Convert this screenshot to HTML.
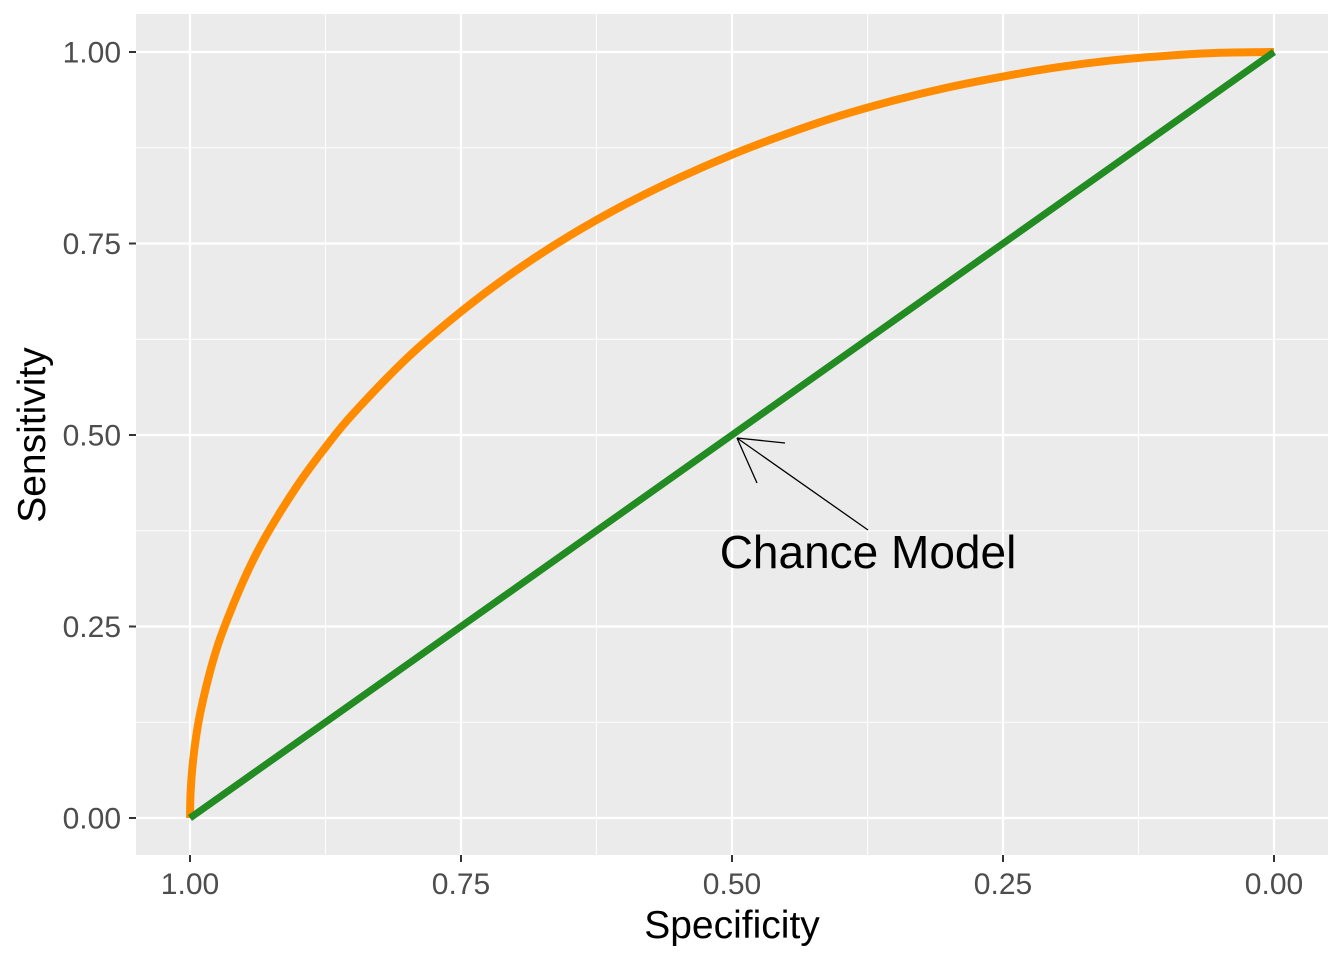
<!DOCTYPE html>
<html><head><meta charset="utf-8"><style>
body{margin:0;background:#fff}
svg text{font-family:"Liberation Sans",Arial,sans-serif}
</style></head><body>
<svg id="chart" width="1344" height="960">
<rect x="136" y="14" width="1192" height="841" fill="#ebebeb"/>
<g id="grid"></g>
<g id="series"></g>
<g id="axes"></g>
<g>
<line x1="868" y1="530" x2="737" y2="438" stroke="#000" stroke-width="1.3"/>
<line x1="737" y1="438" x2="785" y2="443" stroke="#000" stroke-width="1.3"/>
<line x1="737" y1="438" x2="757" y2="483" stroke="#000" stroke-width="1.3"/>
<text x="868" y="568" font-size="46" text-anchor="middle" fill="#000">Chance Model</text>
</g>
<text x="732" y="938" font-size="39" text-anchor="middle" fill="#000">Specificity</text>
<text transform="translate(45,435) rotate(-90)" font-size="39" text-anchor="middle" fill="#000">Sensitivity</text>
</svg>
<script>
const xTicks=[1,0.75,0.5,0.25,0];
const yTicks=[0,0.25,0.5,0.75,1];
const minorTicks=[0.875,0.625,0.375,0.125];
const rocSpec=[1,0.9995,0.998,0.995,0.99,0.98,0.97,0.95,0.93,0.9,0.875,0.85,0.8,0.75,0.7,0.65,0.6,0.55,0.5,0.45,0.4,0.35,0.3,0.25,0.2,0.15,0.1,0.05,0];
const rocSens=[0,0.032,0.063,0.100,0.141,0.199,0.243,0.312,0.368,0.436,0.484,0.527,0.600,0.661,0.714,0.760,0.800,0.835,0.866,0.893,0.917,0.937,0.954,0.968,0.980,0.989,0.995,0.999,1];
const chanceSpec=[1,0];
const chanceSens=[0,1];
const NS="http://www.w3.org/2000/svg";
const X=v=>190+(1-v)*1084;
const Y=v=>818-v*766;
function mk(t,a,p){const e=document.createElementNS(NS,t);for(const k in a)e.setAttribute(k,a[k]);p.appendChild(e);return e;}
const grid=document.getElementById('grid'),axes=document.getElementById('axes'),series=document.getElementById('series');
minorTicks.forEach(v=>{
 let l=mk('line',{x1:X(v),x2:X(v),y1:14,y2:855,stroke:'#fff','stroke-width':1},grid);
 
 
 let m=mk('line',{x1:136,x2:1328,y1:Y(v),y2:Y(v),stroke:'#fff','stroke-width':1},grid);
 
 
});
xTicks.forEach(v=>{
 let l=mk('line',{x1:X(v),x2:X(v),y1:14,y2:855,stroke:'#fff','stroke-width':2.2},grid);
 
 
 let t=mk('line',{x1:X(v),x2:X(v),y1:855,y2:862,stroke:'#333','stroke-width':2},axes);
 
 
 let tx=mk('text',{x:X(v),y:894,'font-size':30,'text-anchor':'middle',fill:'#4d4d4d'},axes);
 tx.textContent=v.toFixed(2);
 
 
});
yTicks.forEach(v=>{
 let l=mk('line',{x1:136,x2:1328,y1:Y(v),y2:Y(v),stroke:'#fff','stroke-width':2.2},grid);
 
 
 let t=mk('line',{x1:129,x2:136,y1:Y(v),y2:Y(v),stroke:'#333','stroke-width':2},axes);
 
 
 let tx=mk('text',{x:121,y:Y(v)+10.5,'font-size':30,'text-anchor':'end',fill:'#4d4d4d'},axes);
 tx.textContent=v.toFixed(2);
 
 
});
function path(xs,ys){
 const p=xs.map((s,i)=>[X(s),Y(ys[i])]);
 let d='M'+p[0][0]+','+p[0][1];
 for(let i=0;i<p.length-1;i++){
  const p0=p[Math.max(0,i-1)],p1=p[i],p2=p[i+1],p3=p[Math.min(p.length-1,i+2)];
  const c1=[p1[0]+(p2[0]-p0[0])/6,p1[1]+(p2[1]-p0[1])/6];
  const c2=[p2[0]-(p3[0]-p1[0])/6,p2[1]-(p3[1]-p1[1])/6];
  d+='C'+c1+' '+c2+' '+p2;
 }
 return d;
}
let roc=mk('path',{d:path(rocSpec,rocSens),fill:'none',stroke:'#ff8c00','stroke-width':8,'stroke-linejoin':'round'},series);


let ch=mk('path',{d:'M'+X(chanceSpec[0])+','+Y(chanceSens[0])+'L'+X(chanceSpec[1])+','+Y(chanceSens[1]),fill:'none',stroke:'#228b22','stroke-width':7},series);


</script>
</body></html>
